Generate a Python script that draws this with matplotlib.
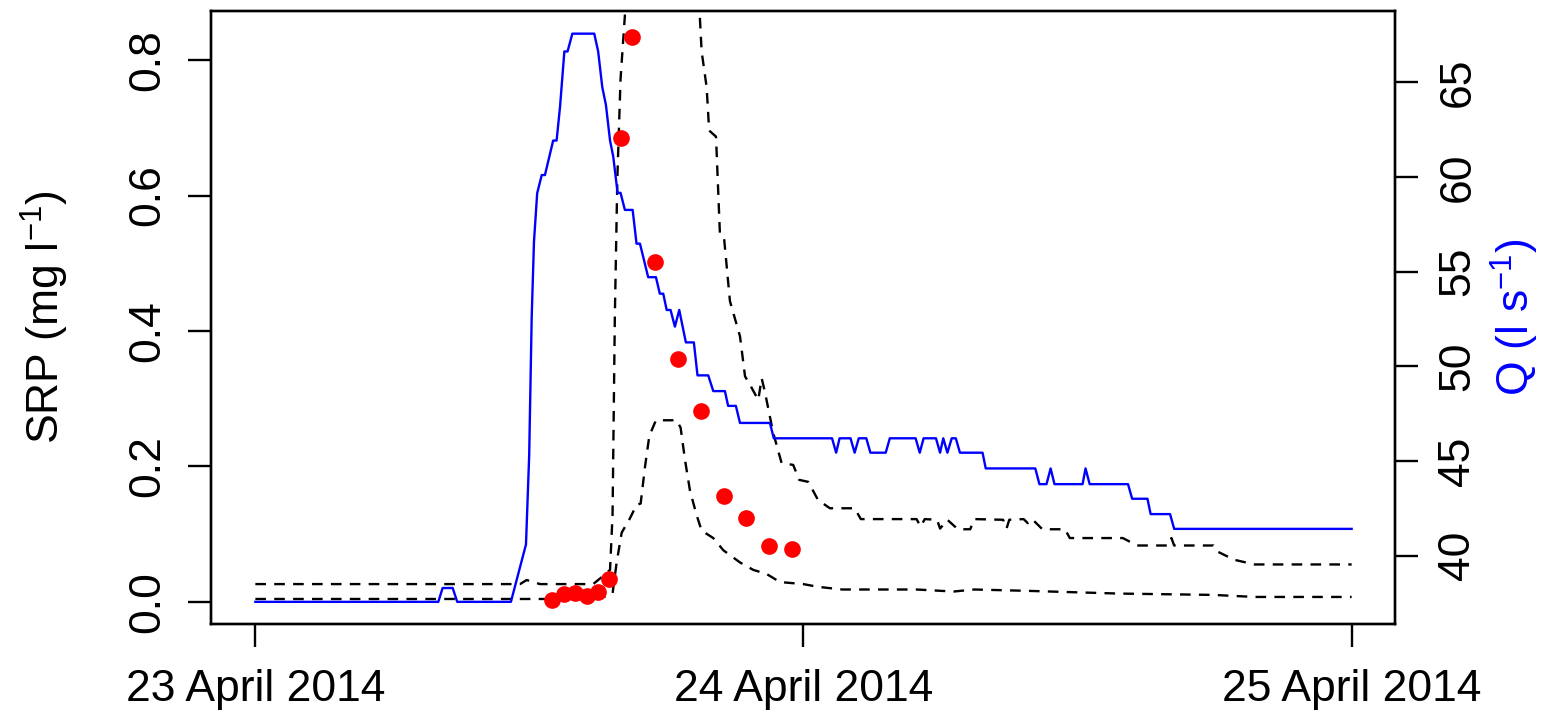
import numpy as np
import matplotlib
matplotlib.use("Agg")
import matplotlib.pyplot as plt

plt.rcParams['font.family'] = ['Liberation Sans', 'DejaVu Sans']
plt.rcParams['mathtext.fontset'] = 'custom'
plt.rcParams['mathtext.rm'] = 'Liberation Sans'
plt.rcParams['mathtext.it'] = 'Liberation Sans:italic'

# time in hours after 23 April 2014 00:00
q_hours = [0, 7.65, 8.01, 8.20, 8.64, 8.84, 11.19, 11.85, 11.99, 12.10, 12.20,
           12.34, 12.54, 12.68, 13.04, 13.19, 13.34, 13.53, 13.67, 13.88, 14.84,
           15.01, 15.19, 15.35, 15.53, 15.67, 15.86, 15.99, 16.18, 16.52, 16.69,
           16.84, 17.20, 17.54, 17.71, 17.86, 18.01, 18.18, 18.37, 18.56, 18.85,
           19.20, 19.36, 19.83, 20.05, 20.56, 20.70, 21.04, 21.22, 22.53, 22.70,
           25.25, 25.43, 25.58, 26.06, 26.24, 26.42, 26.75, 26.93, 27.60, 27.78,
           28.91, 29.09, 29.26, 29.80, 29.98, 30.12, 30.30, 30.49, 30.67, 30.85,
           31.84, 31.98, 34.15, 34.33, 34.64, 34.82, 34.99, 36.22, 36.35, 36.53,
           38.21, 38.39, 39.06, 39.20, 40.05, 40.23, 48.0]
q_flow = [37.57, 37.57, 37.57, 38.30, 38.30, 37.57, 37.57, 40.60, 45.30, 52.61, 56.58,
          59.13, 60.09, 60.09, 61.91, 61.91, 63.68, 66.61, 66.61, 67.55, 67.55,
          66.61, 64.73, 63.79, 61.91, 61.07, 59.15, 59.15, 58.25, 58.25, 56.47,
          56.47, 54.70, 54.70, 53.83, 53.83, 52.97, 52.97, 52.09, 52.97, 51.26,
          51.26, 49.52, 49.52, 48.69, 48.69, 47.91, 47.91, 47.01, 47.01, 46.20,
          46.20, 45.44, 46.20, 46.20, 45.44, 46.20, 46.20, 45.44, 45.44, 46.20,
          46.20, 45.44, 46.20, 46.20, 45.44, 46.20, 45.44, 46.20, 46.20, 45.44,
          45.44, 44.61, 44.61, 43.78, 43.78, 44.61, 43.78, 43.78, 44.61, 43.78,
          43.78, 43.01, 43.01, 42.20, 42.20, 41.42, 41.42]

srp_hours = [13.0, 13.5, 14.0, 14.5, 15.0, 15.5, 16.0, 16.5, 17.5, 18.5, 19.5,
             20.5, 21.5, 22.5, 23.5]
srp_obs = [0.003, 0.012, 0.013, 0.009, 0.015, 0.033, 0.685, 0.834, 0.502, 0.358,
           0.281, 0.156, 0.123, 0.083, 0.078]

upper_hours = [0, 11.59, 11.88, 12.46, 14.79, 15.23, 15.53, 15.64, 15.74, 15.85,
               15.99, 16.18, 16.40, 17.71, 19.33, 19.54, 19.76, 19.87, 20.17, 20.34,
               20.52, 20.78, 21.22, 21.44, 21.73, 22.02, 22.17, 22.31, 22.67, 23.04,
               23.55, 23.81, 24.21, 24.64, 25.16, 26.24, 26.51, 28.95, 29.13, 29.31,
               29.85, 29.98, 30.30, 30.76, 31.30, 31.48, 32.74, 32.89, 33.01, 33.64,
               33.82, 34.01, 34.46, 35.45, 35.66, 37.98, 38.61, 39.96, 40.11, 40.23,
               41.95, 42.13, 42.85, 43.75, 48.0]
upper_srp = [0.026, 0.026, 0.032, 0.026, 0.026, 0.038, 0.047, 0.128, 0.421, 0.626,
             0.772, 0.866, 1.00, 1.40, 0.95, 0.813, 0.760, 0.696, 0.687, 0.544,
             0.538, 0.444, 0.392, 0.333, 0.316, 0.298, 0.330, 0.310, 0.250, 0.205,
             0.202, 0.180, 0.177, 0.150, 0.138, 0.138, 0.122, 0.122, 0.111, 0.122,
             0.121, 0.108, 0.121, 0.107, 0.107, 0.122, 0.121, 0.108, 0.121, 0.122,
             0.116, 0.122, 0.107, 0.107, 0.094, 0.094, 0.083, 0.083, 0.094, 0.083,
             0.083, 0.074, 0.062, 0.055, 0.055]

lower_hours = [0, 15.04, 15.64, 15.82, 16.04, 16.40, 16.69, 16.87, 17.06, 17.25,
               17.54, 18.45, 18.62, 18.81, 19.03, 19.32, 19.54, 20.05, 20.49, 21.22,
               21.80, 22.38, 22.97, 23.99, 24.62, 25.70, 28.95, 30.57, 31.48, 33.82,
               37.80, 41.95, 43.75, 48.0]
lower_srp = [0.004, 0.004, 0.012, 0.058, 0.102, 0.123, 0.143, 0.145, 0.199, 0.245,
             0.268, 0.268, 0.257, 0.210, 0.164, 0.128, 0.105, 0.094, 0.076, 0.058,
             0.047, 0.041, 0.029, 0.026, 0.022, 0.018, 0.018, 0.015, 0.018, 0.016,
             0.012, 0.010, 0.007, 0.007]

date_ticks = [0, 24, 48]
date_labels = ['23 April 2014', '24 April 2014', '25 April 2014']

fs = 32
fig = plt.figure(figsize=(15.54, 7.2), dpi=100)
ax = fig.add_axes([0.1358, 0.1333, 0.7619, 0.8518])

dash = (0, (4.5, 3.5))
ax.plot(upper_hours, upper_srp, color='black', lw=1.7, linestyle=dash)
ax.plot(lower_hours, lower_srp, color='black', lw=1.7, linestyle=dash)
ax.plot(srp_hours, srp_obs, 'o', color='red', markersize=12, markeredgewidth=0)

ax.set_xlim(-1.94, 49.9)
ax.set_ylim(-0.033, 0.873)
ax.set_xticks(date_ticks, date_labels)
ax.set_yticks([0.0, 0.2, 0.4, 0.6, 0.8], ['0.0', '0.2', '0.4', '0.6', '0.8'],
              rotation=90, va='center')
ax.tick_params(length=16.5, width=1.7, labelsize=fs, pad=14)
ax.tick_params(axis='x', pad=16)

ax2 = ax.twinx()
ax2.plot(q_hours, q_flow, color='blue', lw=1.7)
ax2.set_ylim(36.40, 68.76)
ax2.set_yticks([40, 45, 50, 55, 60, 65], ['40', '45', '50', '55', '60', '65'],
               rotation=90, va='center')
ax2.tick_params(length=16.5, width=1.7, labelsize=fs, pad=14)

for a in (ax, ax2):
    for s in a.spines.values():
        s.set_linewidth(1.7)

fig.text(45 / 1554, 1 - 317 / 720, r'SRP (mg l$^{-1}$)', rotation=90,
         ha='center', va='center', fontsize=fs)
fig.text(1515 / 1554, 1 - 317 / 720, r'Q (l s$^{-1}$)', rotation=90,
         ha='center', va='center', fontsize=fs, color='blue')

fig.savefig('out.png', dpi=100)
